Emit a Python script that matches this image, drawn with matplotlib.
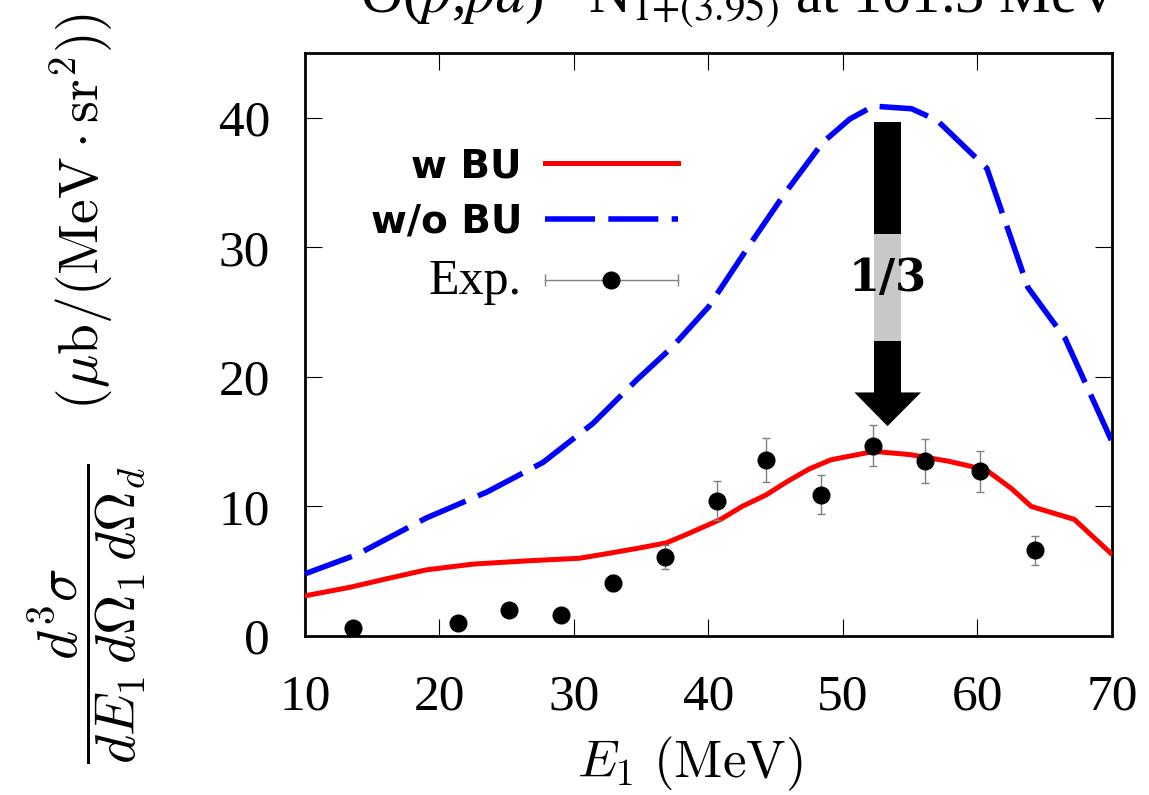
import matplotlib
matplotlib.use("Agg")
import matplotlib.pyplot as plt
from matplotlib.lines import Line2D
from matplotlib.patches import Rectangle, Polygon
from matplotlib.legend_handler import HandlerLine2D, HandlerTuple

# calculation with breakup (w BU)
E_wbu = [10, 13.3, 16, 19, 22.5, 26.5, 30.4, 32.7, 34.9, 36.9, 38.5, 40.9, 42.5,
         44.3, 45.9, 47.5, 49.1, 52.3, 55, 57.8, 59.5, 60.8, 62.5, 64.0, 67.2, 70]
sig_wbu = [3.1, 3.75, 4.4, 5.1, 5.55, 5.8, 6.0, 6.4, 6.8, 7.2, 7.9, 9.0, 10.0,
           10.9, 11.95, 12.9, 13.6, 14.25, 14.0, 13.5, 13.1, 12.7, 11.4, 10.0, 9.0, 6.3]

# calculation without breakup (w/o BU)
E_wobu = [10, 13.9, 19.0, 23.5, 27.7, 31.4, 34.7, 37.3, 40.0, 43.0, 45.7, 48.5,
          50.5, 52.25, 55.1, 57.0, 60.7, 63.75, 66.5, 70]
sig_wobu = [4.8, 6.3, 9.1, 11.1, 13.4, 16.4, 19.8, 22.3, 25.4, 30.1, 34.2, 38.1,
            39.9, 40.9, 40.7, 39.8, 36.1, 26.9, 23.0, 15.0]

# experiment
E_exp = [13.6, 21.35, 25.2, 29.0, 32.9, 36.8, 40.6, 44.3, 48.4, 52.2, 56.1, 60.2, 64.3]
sig_exp = [0.65, 1.0, 2.0, 1.65, 4.1, 6.1, 10.45, 13.6, 10.9, 14.7, 13.5, 12.7, 6.6]
err_exp = [0.3, 0.3, 0.35, 0.35, 0.6, 0.95, 1.5, 1.7, 1.5, 1.6, 1.7, 1.6, 1.1]

xticks = [10, 20, 30, 40, 50, 60, 70]
yticks = [0, 10, 20, 30, 40]

plt.rcParams['font.family'] = ['Liberation Serif', 'DejaVu Serif']
plt.rcParams['mathtext.fontset'] = 'cm'

fig = plt.figure(figsize=(11.49, 7.95), dpi=100)
ax = fig.add_axes([0.2654, 0.2, 0.7024, 0.7333])

ax.plot(E_wbu, sig_wbu, color='red', lw=3.6, zorder=3)
ax.plot(E_wobu, sig_wobu, color='blue', lw=4, dashes=(9, 2.4), zorder=3)
ax.errorbar(E_exp, sig_exp, yerr=err_exp, fmt='o', color='black', ms=12,
            ecolor='gray', elinewidth=1, capsize=3.2, capthick=1, zorder=4)

# the 1/3 arrow
ax.add_patch(Rectangle((52.32, 31.0), 1.98, 8.7, color='black', lw=0, zorder=2))
ax.add_patch(Rectangle((52.32, 22.8), 1.98, 8.2, color='#c8c8c8', lw=0, zorder=2))
ax.add_patch(Rectangle((52.32, 18.75), 1.98, 4.05, color='black', lw=0, zorder=2))
ax.add_patch(Polygon([(50.85, 18.8), (55.8, 18.8), (53.31, 16.2)], closed=True,
                     color='black', lw=0, zorder=2))
ax.text(53.35, 27.6, '1/3', ha='center', va='center', fontsize=32,
        family='DejaVu Serif', weight='bold', zorder=5)

ax.set_xlim(10, 70)
ax.set_ylim(0, 45)
ax.set_xticks(xticks)
ax.set_yticks(yticks)
ax.tick_params(direction='in', top=True, right=True, length=12, width=0.8,
               labelsize=37)
ax.tick_params(axis='x', pad=27)
ax.tick_params(axis='y', pad=25)
for s in ax.spines.values():
    s.set_linewidth(2)

ax.set_xlabel(r'$E_1\ (\mathrm{MeV})$', fontsize=38)
ax.xaxis.set_label_coords(0.477, -0.17)
ax.set_ylabel(r'$\dfrac{d^3\sigma}{dE_1\,d\Omega_1\,d\Omega_d}\quad(\mu\mathrm{b/(MeV\cdot sr^2)})$',
              fontsize=40, va='center')
ax.yaxis.set_label_coords(-0.27, 0.425)

fig.text(0.625, 0.984,
         r'$^{16}$O($p$,$pd$)$^{14}$N$_{1{+}(3.95)}$ at 101.3 MeV',
         ha='center', va='baseline', fontsize=42, math_fontfamily='stix')

# legend: labels on the left, handles on the right
h_wbu = Line2D([], [], color='red', lw=3.6)
h_wobu = Line2D([], [], color='blue', lw=4, dashes=(9, 2.4))
h_bar = Line2D([], [], color='gray', lw=1, marker='|', ms=9, mew=1)
h_dot = Line2D([], [], ls='none', marker='o', color='black', ms=12)
leg = ax.legend([h_wbu, h_wobu, (h_bar, h_dot)], ['w BU', 'w/o BU', 'Exp.'],
                handler_map={h_bar: HandlerLine2D(numpoints=2, marker_pad=0),
                             h_dot: HandlerLine2D(numpoints=1),
                             tuple: HandlerTuple(ndivide=1, pad=0)},
                loc='upper right', bbox_to_anchor=(0.4858, 0.872),
                markerfirst=False, frameon=False, borderpad=0,
                fontsize=28, handlelength=3.4, handletextpad=0.6,
                labelspacing=0.45)
texts = leg.get_texts()
for t in texts[:2]:
    t.set_family('DejaVu Sans')
    t.set_weight('bold')
texts[2].set_family('Liberation Serif')
texts[2].set_fontsize(36)

fig.savefig('out.png', dpi=100)
